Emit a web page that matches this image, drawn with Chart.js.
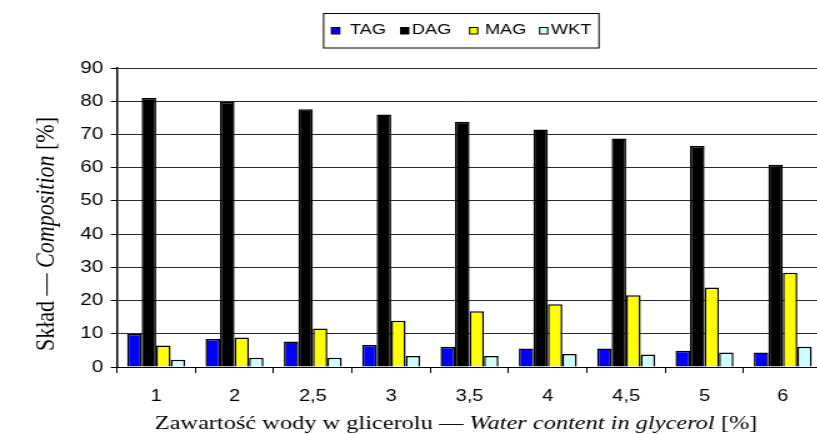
<!DOCTYPE html>
<html>
<head>
<meta charset="utf-8">
<script src="https://cdn.jsdelivr.net/npm/chart.js@4/dist/chart.umd.min.js"></script>
<style>
  html, body { margin: 0; padding: 0; background: #fff; overflow: hidden; width: 817px; height: 434px; }
  #wrap { width: 664px; height: 434px; transform: scaleX(1.25); transform-origin: 0 0; }
  canvas { display: block; }
</style>
</head>
<body>
<div id="wrap"><canvas id="c" width="664" height="434"></canvas></div>
<script>
// Water content in glycerol [%]
const categories = ['1', '2', '2,5', '3', '3,5', '4', '4,5', '5', '6'];
// Composition [%] of each fraction
const tag = [9.9, 8.4, 7.7, 6.6, 6.1, 5.6, 5.6, 4.9, 4.4];
const dag = [81.0, 79.8, 77.6, 76.0, 73.8, 71.5, 68.8, 66.5, 60.9];
const mag = [6.5, 8.9, 11.6, 13.9, 16.8, 18.9, 21.6, 23.9, 28.4];
const wkt = [2.2, 2.8, 2.8, 3.3, 3.3, 3.9, 3.8, 4.4, 6.1];
const seriesNames = ['TAG', 'DAG', 'MAG', 'WKT'];
const seriesColors = ['#0000FF', '#000000', '#FFFF00', '#CCFFFF'];
const yMin = 0, yMax = 90, yStep = 10;

const serif = '"Liberation Serif", "Times New Roman", serif';
const sans = '"Liberation Sans", Arial, sans-serif';

// Legend box with square swatches above the plot
const boxLegend = {
  id: 'boxLegend',
  afterDraw(chart) {
    const ctx = chart.ctx;
    ctx.save();
    ctx.strokeStyle = '#000';
    ctx.lineWidth = 1;
    ctx.strokeRect(258.9, 13.5, 220.3, 34.5);
    const swatchX = [264.8, 320, 375.2, 431.2];
    const textX = [280, 329.6, 388, 440.8];
    ctx.font = '14.5px ' + sans;
    ctx.textBaseline = 'alphabetic';
    ctx.textAlign = 'left';
    chart.data.datasets.forEach((ds, i) => {
      ctx.fillStyle = ds.backgroundColor;
      ctx.fillRect(swatchX[i], 27, 7, 7);
      ctx.strokeStyle = '#000';
      ctx.strokeRect(swatchX[i] + 0.5, 27.5, 6.5, 6.5);
      ctx.fillStyle = '#000';
      ctx.fillText(ds.label, textX[i], 33.5);
    });
    ctx.restore();
  }
};

// Axis titles mixing upright Polish and italic English parts
function drawMixed(ctx, parts, cx, y, size) {
  let total = 0;
  parts.forEach(p => {
    ctx.font = (p.italic ? 'italic ' : '') + size + 'px ' + serif;
    p.w = ctx.measureText(p.text).width;
    total += p.w;
  });
  let x = cx - total / 2;
  parts.forEach(p => {
    ctx.font = (p.italic ? 'italic ' : '') + size + 'px ' + serif;
    ctx.fillText(p.text, x, y);
    x += p.w;
  });
}

const axisTitles = {
  id: 'axisTitles',
  afterDraw(chart) {
    const ctx = chart.ctx;
    ctx.save();
    ctx.fillStyle = '#000';
    ctx.textAlign = 'left';
    ctx.textBaseline = 'alphabetic';
    drawMixed(ctx, [
      { text: 'Zawartość wody w glicerolu — ' },
      { text: 'Water content in glycerol', italic: true },
      { text: ' [%]' }
    ], 364.8, 428.5, 19.5);
    ctx.translate(37.6, 234);
    ctx.rotate(-Math.PI / 2);
    ctx.textBaseline = 'middle';
    drawMixed(ctx, [
      { text: 'Skład — ' },
      { text: 'Composition', italic: true },
      { text: ' [%]' }
    ], 0, 0, 22);
    ctx.restore();
  }
};

const values = [tag, dag, mag, wkt];
new Chart(document.getElementById('c'), {
  type: 'bar',
  data: {
    labels: categories,
    datasets: seriesNames.map((name, i) => ({
      label: name,
      data: values[i],
      backgroundColor: seriesColors[i],
      borderColor: '#000',
      borderWidth: 1.5,
      categoryPercentage: 0.74,
      barPercentage: 1.0
    }))
  },
  options: {
    responsive: false,
    devicePixelRatio: 1,
    animation: false,
    layout: { padding: { left: 0, right: 6.4, top: 68, bottom: 0 } },
    plugins: { legend: { display: false }, tooltip: { enabled: false } },
    scales: {
      x: {
        offset: true,
        grid: { display: true, drawOnChartArea: false, drawTicks: true, tickLength: 6, color: '#000', offset: true },
        border: { display: true, color: '#000', width: 1 },
        ticks: { color: '#000', font: { family: sans, size: 16 }, padding: 14, maxRotation: 0 },
        afterFit(scale) { scale.height = 67; }
      },
      y: {
        min: yMin, max: yMax,
        grid: { color: '#2b2b2b', lineWidth: 1, drawTicks: true, tickLength: 5, tickColor: '#000' },
        border: { display: true, color: '#000', width: 1.5 },
        ticks: { stepSize: yStep, color: '#000', font: { family: sans, size: 16.5 }, padding: 6 },
        afterFit(scale) { scale.width = 93.6; }
      }
    }
  },
  plugins: [boxLegend, axisTitles]
});
</script>
</body>
</html>
